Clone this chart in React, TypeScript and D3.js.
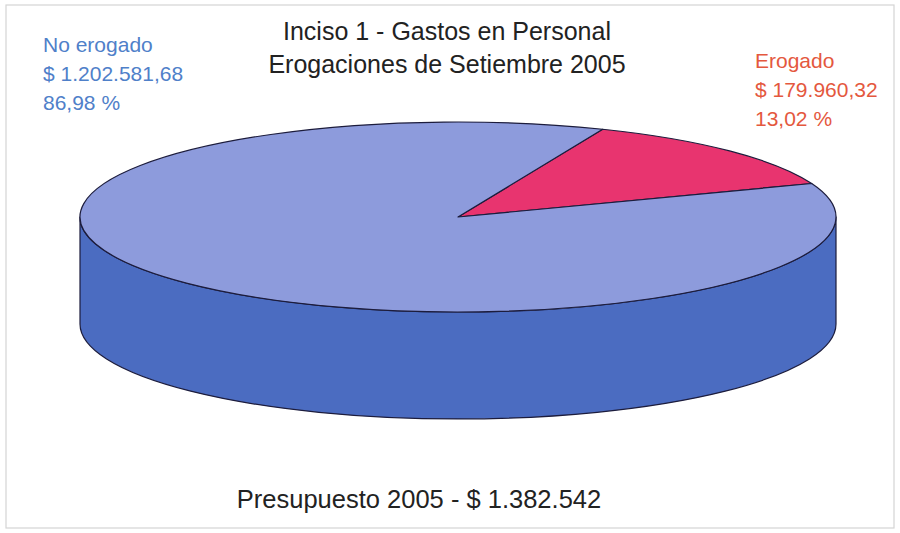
import React, { useEffect, useRef } from 'react';
import * as d3 from 'd3';

const categories = ['Erogado', 'No erogado'];
const amounts = [179960.32, 1202581.68];
const amountLabels = ['$ 179.960,32', '$ 1.202.581,68'];
const percentLabels = ['13,02 %', '86,98 %'];
const titleLines = ['Inciso 1 - Gastos en Personal', 'Erogaciones de Setiembre 2005'];
const footer = 'Presupuesto 2005 - $ 1.382.542';

const topColors = ['#e8346f', '#8d9bdc'];
const sideColors = ['#a82455', '#4b6cc1'];
const labelColors = ['#e4583e', '#4f80c9'];

const W = 900;
const H = 533;

export default function App() {
  const ref = useRef<SVGSVGElement>(null);

  useEffect(() => {
    const svg = d3.select(ref.current);
    svg.selectAll('*').remove();

    const cx = 458;
    const cy = 217;
    const rx = 378;
    const ry = 95;
    const depth = 107;
    const font = 'Liberation Sans, Arial, sans-serif';

    // frame
    svg.append('rect')
      .attr('x', 6).attr('y', 5).attr('width', W - 12).attr('height', H - 10)
      .attr('fill', '#fff').attr('stroke', '#d4d4d4').attr('stroke-width', 1.2);

    const pie = d3.pie<number>().sort(null).startAngle(Math.PI / 8).endAngle(Math.PI / 8 + 2 * Math.PI);
    const arcs = pie(amounts);

    const pt = (a: number, dy = 0): [number, number] => [cx + rx * Math.sin(a), cy - ry * Math.cos(a) + dy];

    // side walls (front half only: angles pi/2..3pi/2)
    const sideG = svg.append('g');
    arcs.forEach((d, i) => {
      for (const off of [0, 2 * Math.PI, -2 * Math.PI]) {
        const a0 = Math.max(d.startAngle + off, Math.PI / 2);
        const a1 = Math.min(d.endAngle + off, (3 * Math.PI) / 2);
        if (a1 <= a0) continue;
        const p0 = pt(a0);
        const p1 = pt(a1);
        const q1 = pt(a1, depth);
        const q0 = pt(a0, depth);
        const path = `M${p0[0]},${p0[1]} A${rx},${ry} 0 0 1 ${p1[0]},${p1[1]} L${q1[0]},${q1[1]} A${rx},${ry} 0 0 0 ${q0[0]},${q0[1]} Z`;
        sideG.append('path')
          .attr('d', path)
          .attr('fill', sideColors[i])
          .attr('stroke', '#1c1c3c')
          .attr('stroke-width', 1.2)
          .attr('stroke-linejoin', 'round');
      }
    });

    // top slices
    const topG = svg.append('g');
    arcs.forEach((d, i) => {
      const p0 = pt(d.startAngle);
      const p1 = pt(d.endAngle);
      const large = d.endAngle - d.startAngle > Math.PI ? 1 : 0;
      const path = `M${cx},${cy} L${p0[0]},${p0[1]} A${rx},${ry} 0 ${large} 1 ${p1[0]},${p1[1]} Z`;
      topG.append('path')
        .attr('d', path)
        .attr('fill', topColors[i])
        .attr('stroke', '#1c1c3c')
        .attr('stroke-width', 1.2)
        .attr('stroke-linejoin', 'round');
    });

    // title
    svg.append('g')
      .selectAll('text')
      .data(titleLines)
      .join('text')
      .attr('x', 447)
      .attr('y', (_, i) => 40 + i * 33)
      .attr('text-anchor', 'middle')
      .attr('font-family', font)
      .attr('font-size', 25)
      .attr('fill', '#222')
      .text((d) => d);

    // labels
    const labelPos = [
      { x: 755, y: 68 },
      { x: 43, y: 52 },
    ];
    categories.forEach((c, i) => {
      const lines = [c, amountLabels[i], percentLabels[i]];
      svg.append('g')
        .selectAll('text')
        .data(lines)
        .join('text')
        .attr('x', labelPos[i].x)
        .attr('y', (_, j) => labelPos[i].y + j * 29)
        .attr('font-family', font)
        .attr('font-size', 21)
        .attr('fill', labelColors[i])
        .text((d) => d);
    });

    svg.append('text')
      .attr('x', 419)
      .attr('y', 508)
      .attr('text-anchor', 'middle')
      .attr('font-family', font)
      .attr('font-size', 25.5)
      .attr('fill', '#222')
      .text(footer);
  }, []);

  return (
    <svg
      ref={ref}
      width={W}
      height={H}
      style={{ position: 'absolute', left: 0, top: 0, background: '#fff' }}
    />
  );
}
